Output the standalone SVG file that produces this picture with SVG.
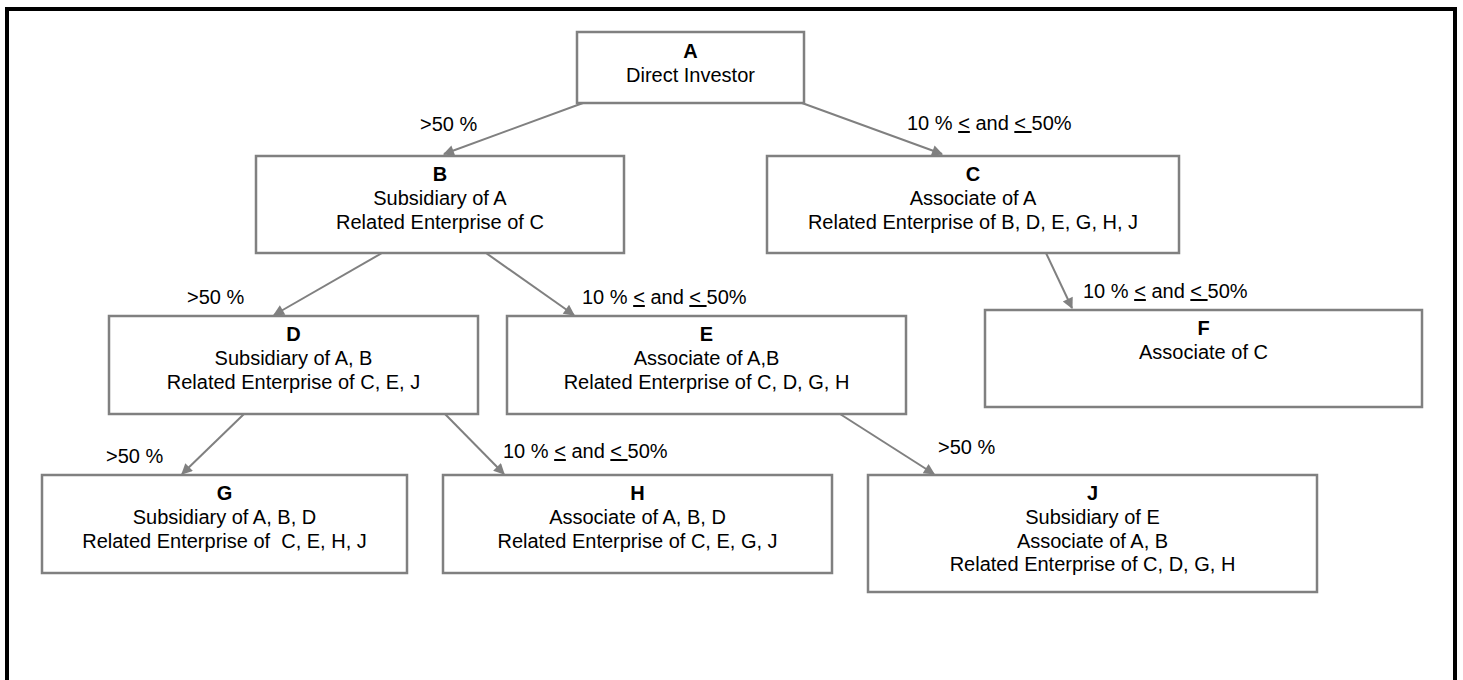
<svg xmlns="http://www.w3.org/2000/svg" width="1463" height="680" viewBox="0 0 1463 680">
<style>
text{font-family:"Liberation Sans",Arial,sans-serif;font-size:20px;fill:#000}
.t{text-anchor:middle}
.b{font-weight:bold}
.box{fill:#fff;stroke:#808080;stroke-width:2.5}
.c{stroke:#808080;stroke-width:2;fill:none;marker-end:url(#ah)}
.u{text-decoration:underline}
</style>
<defs>
<marker id="ah" viewBox="0 0 10 10" refX="9" refY="5" markerWidth="15" markerHeight="11" markerUnits="userSpaceOnUse" orient="auto">
<path d="M0,0 L10,5 L0,10 z" fill="#808080"/>
</marker>
</defs>
<rect width="1463" height="680" fill="#fff"/>
<path d="M7,690 V9 H1455 V690" fill="none" stroke="#000" stroke-width="4"/>

<g id="connectors">
<line class="c" x1="583" y1="103" x2="444" y2="154"/>
<line class="c" x1="802" y1="103" x2="942" y2="154"/>
<line class="c" x1="382" y1="253" x2="274" y2="315"/>
<line class="c" x1="486" y1="253" x2="574" y2="315"/>
<line class="c" x1="1046" y1="253" x2="1072" y2="308"/>
<line class="c" x1="244" y1="414" x2="182" y2="474"/>
<line class="c" x1="445" y1="414" x2="504" y2="474"/>
<line class="c" x1="840" y1="414" x2="934" y2="474"/>
<text x="420" y="131">&gt;50 %</text>
<text x="907" y="130">10 % <tspan class="u">&lt;</tspan> and <tspan class="u">&lt; </tspan>50%</text>
<text x="187" y="304">&gt;50 %</text>
<text x="582" y="304">10 % <tspan class="u">&lt;</tspan> and <tspan class="u">&lt; </tspan>50%</text>
<text x="1083" y="298">10 % <tspan class="u">&lt;</tspan> and <tspan class="u">&lt; </tspan>50%</text>
<text x="106" y="463">&gt;50 %</text>
<text x="503" y="458">10 % <tspan class="u">&lt;</tspan> and <tspan class="u">&lt; </tspan>50%</text>
<text x="938" y="454">&gt;50 %</text>
</g>

<g id="A">
<rect class="box" x="577" y="32" width="227" height="71"/>
<text class="t b" x="690.5" y="58">A</text>
<text class="t" x="690.5" y="82">Direct Investor</text>
</g>
<g id="B">
<rect class="box" x="256" y="156" width="368" height="97"/>
<text class="t b" x="440" y="181">B</text>
<text class="t" x="440" y="205">Subsidiary of A</text>
<text class="t" x="440" y="228.5">Related Enterprise of C</text>
</g>
<g id="C">
<rect class="box" x="767" y="156" width="412" height="97"/>
<text class="t b" x="973" y="181">C</text>
<text class="t" x="973" y="205">Associate of A</text>
<text class="t" x="973" y="228.5">Related Enterprise of B, D, E, G, H, J</text>
</g>
<g id="D">
<rect class="box" x="109" y="316" width="369" height="98"/>
<text class="t b" x="293.5" y="341">D</text>
<text class="t" x="293.5" y="365">Subsidiary of A, B</text>
<text class="t" x="293.5" y="388.5">Related Enterprise of C, E, J</text>
</g>
<g id="E">
<rect class="box" x="507" y="316" width="399" height="98"/>
<text class="t b" x="706.5" y="341">E</text>
<text class="t" x="706.5" y="365">Associate of A,B</text>
<text class="t" x="706.5" y="388.5">Related Enterprise of C, D, G, H</text>
</g>
<g id="F">
<rect class="box" x="985" y="310" width="437" height="97"/>
<text class="t b" x="1203.5" y="335">F</text>
<text class="t" x="1203.5" y="359">Associate of C</text>
</g>
<g id="G">
<rect class="box" x="42" y="475" width="365" height="98"/>
<text class="t b" x="224.5" y="500">G</text>
<text class="t" x="224.5" y="524">Subsidiary of A, B, D</text>
<text class="t" x="224.5" y="547.5" xml:space="preserve">Related Enterprise of  C, E, H, J</text>
</g>
<g id="H">
<rect class="box" x="443" y="475" width="389" height="98"/>
<text class="t b" x="637.5" y="500">H</text>
<text class="t" x="637.5" y="524">Associate of A, B, D</text>
<text class="t" x="637.5" y="547.5">Related Enterprise of C, E, G, J</text>
</g>
<g id="J">
<rect class="box" x="868" y="475" width="449" height="117"/>
<text class="t b" x="1092.5" y="500">J</text>
<text class="t" x="1092.5" y="524">Subsidiary of E</text>
<text class="t" x="1092.5" y="547.5">Associate of A, B</text>
<text class="t" x="1092.5" y="571">Related Enterprise of C, D, G, H</text>
</g>
</svg>
